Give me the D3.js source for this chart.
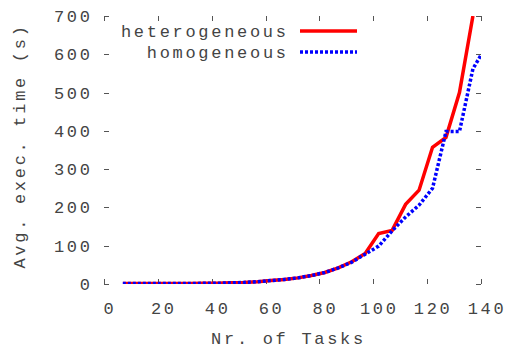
<!DOCTYPE html>
<html>
<head>
<meta charset="utf-8">
<script src="https://cdn.jsdelivr.net/npm/d3@7"></script>
<style>
  html, body { margin: 0; padding: 0; background: #fff; }
  svg text { font-family: "Liberation Mono", "Courier New", monospace; fill: #444; }
</style>
</head>
<body>
<svg id="chart" width="507" height="348"></svg>
<script>
// Average execution time vs. number of tasks
const heteroTasks = [7, 12, 17, 22, 27, 32, 37, 42, 47, 52, 57, 62, 67, 72, 77, 82, 87, 92, 97, 102, 107, 112, 117, 122, 127, 132, 137];
const heterogeneous = [1, 1, 1, 1, 1, 1, 2, 2, 3, 4, 6, 9, 12, 16, 22, 30, 42, 58, 80, 132, 140, 208, 245, 357, 383, 500, 700];
const homoTasks = [7, 12, 17, 22, 27, 32, 37, 42, 47, 52, 57, 62, 67, 72, 77, 82, 87, 92, 97, 102, 107, 112, 117, 122, 127, 132, 137, 140];
const homogeneous = [1, 1, 1, 1, 1, 1, 2, 2, 3, 4, 6, 9, 12, 16, 22, 30, 42, 57, 78, 99, 139, 175, 206, 250, 398, 398, 562, 598];
const xTicks = [0, 20, 40, 60, 80, 100, 120, 140];
const yTicks = [0, 100, 200, 300, 400, 500, 600, 700];
const seriesNames = ["heterogeneous", "homogeneous"];

const svg = d3.select("#chart");
const margin = { left: 104, right: 26, top: 16, bottom: 64 };
const W = 507, H = 348;
const x = d3.scaleLinear().domain([0, 140]).range([margin.left, W - margin.right]);
const y = d3.scaleLinear().domain([0, 700]).range([H - margin.bottom, margin.top]);

const fs = 17, ls = 2.7;
const tickColor = "#555";
const tickLen = 5;

// tick marks on all four sides, pointing inward
const g = svg.append("g");
function axisStyle(sel) {
  sel.select(".domain").remove();
  sel.selectAll("line").attr("stroke", tickColor).attr("stroke-width", 1).attr("shape-rendering", "crispEdges");
  sel.selectAll("text").remove();
}
g.append("g").attr("transform", `translate(0,${y(0)})`)
  .call(d3.axisBottom(x).tickValues(xTicks).tickSize(-tickLen)).call(axisStyle);
g.append("g").attr("transform", `translate(0,${y(700)})`)
  .call(d3.axisTop(x).tickValues(xTicks).tickSize(-tickLen)).call(axisStyle);
g.append("g").attr("transform", `translate(${x(0)},0)`)
  .call(d3.axisLeft(y).tickValues(yTicks).tickSize(-tickLen)).call(axisStyle);
g.append("g").attr("transform", `translate(${x(140)},0)`)
  .call(d3.axisRight(y).tickValues(yTicks).tickSize(-tickLen)).call(axisStyle);

// tick labels
svg.append("g").selectAll("text").data(xTicks).join("text")
  .attr("x", d => x(d) + 6).attr("y", 314)
  .attr("text-anchor", "middle").attr("font-size", fs).attr("letter-spacing", ls)
  .text(d => d);
svg.append("g").selectAll("text").data(yTicks).join("text")
  .attr("x", 90 + ls).attr("y", d => y(d)).attr("dy", "0.35em")
  .attr("text-anchor", "end").attr("font-size", fs).attr("letter-spacing", ls)
  .text(d => d);

// axis titles
svg.append("text").attr("x", x(70) - 4).attr("y", 344)
  .attr("text-anchor", "middle").attr("font-size", fs).attr("letter-spacing", ls)
  .text("Nr. of Tasks");
svg.append("text").attr("transform", `translate(25,${(y(0) + y(700)) / 2 - 4}) rotate(-90)`)
  .attr("text-anchor", "middle").attr("font-size", fs).attr("letter-spacing", ls)
  .text("Avg. exec. time (s)");

// data lines
svg.append("clipPath").attr("id", "plotClip").append("rect")
  .attr("x", x(0)).attr("y", y(700)).attr("width", x(140) - x(0)).attr("height", y(0) - y(700));
const line = d3.line().x(d => x(d[0])).y(d => y(d[1]));
const plot = svg.append("g").attr("clip-path", "url(#plotClip)");
plot.append("path").datum(d3.zip(heteroTasks, heterogeneous))
  .attr("d", line).attr("fill", "none").attr("stroke", "#ff0000").attr("stroke-width", 3.5)
  .attr("stroke-linejoin", "miter");
plot.append("path").datum(d3.zip(homoTasks, homogeneous))
  .attr("d", line).attr("fill", "none").attr("stroke", "#0000ff").attr("stroke-width", 3.5)
  .attr("stroke-dasharray", "3,2");

// legend
const legend = [
  { name: seriesNames[0], color: "#ff0000", dash: null, yPos: 31 },
  { name: seriesNames[1], color: "#0000ff", dash: "3,2", yPos: 52 }
];
const lg = svg.append("g");
legend.forEach(l => {
  lg.append("text").attr("x", 286 + ls).attr("y", l.yPos).attr("dy", "0.35em")
    .attr("text-anchor", "end").attr("font-size", fs).attr("letter-spacing", ls).text(l.name);
  lg.append("line").attr("x1", 300).attr("x2", 357).attr("y1", l.yPos).attr("y2", l.yPos)
    .attr("stroke", l.color).attr("stroke-width", 3.5)
    .attr("stroke-dasharray", l.dash);
});
</script>
</body>
</html>
